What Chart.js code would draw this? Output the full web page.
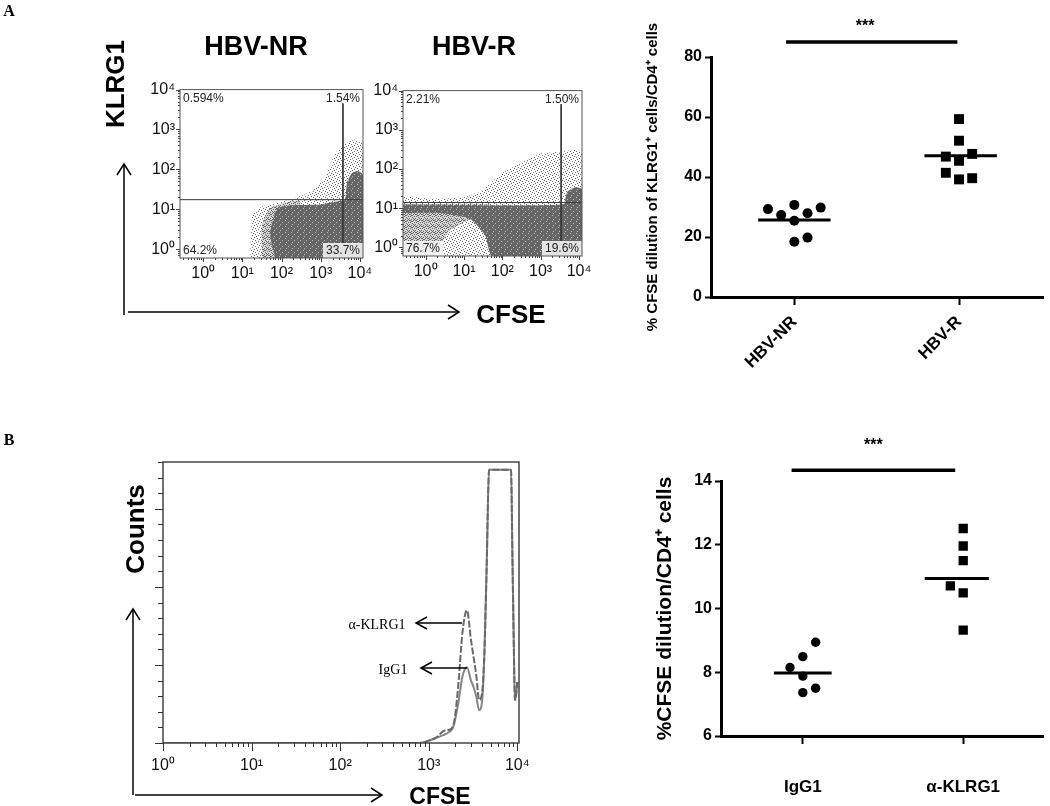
<!DOCTYPE html>
<html>
<head>
<meta charset="utf-8">
<script src="https://cdn.jsdelivr.net/npm/chart.js@4.4.0/dist/chart.umd.min.js"></script>
<style>
  body { margin: 0; background: #fff; }
  #fig { position: relative; width: 1050px; height: 806px; overflow: hidden; font-family: Arial, "Liberation Sans", sans-serif; color: #000; }
  canvas { position: absolute; }
  svg { position: absolute; left: 0; top: 0; }
  .t { position: absolute; transform: translate(-50%, -50%); white-space: nowrap; line-height: 1; }
  .b { font-weight: bold; }
  .v { transform: translate(-50%, -50%) rotate(-90deg); }
  .serif { font-family: "Liberation Serif", "Times New Roman", serif; }
</style>
</head>
<body>
<div id="fig">
  <canvas id="flowNR" width="239" height="213" style="left:140px;top:75px"></canvas>
  <canvas id="flowR" width="233" height="210" style="left:365px;top:76px"></canvas>
  <canvas id="dotA" width="420" height="362" style="left:630px;top:10px"></canvas>
  <canvas id="hist" width="405" height="323" style="left:138px;top:455px"></canvas>
  <canvas id="dotB" width="400" height="376" style="left:650px;top:430px"></canvas>

  <svg width="1050" height="806" fill="none" stroke="#000" stroke-width="1.5">
    <line x1="124" y1="315" x2="124" y2="164"/><polyline points="117,175 124,164 131,175"/>
    <line x1="128" y1="312" x2="459" y2="312"/><polyline points="448,305 459,312 448,319"/>
    <line x1="133" y1="795" x2="133" y2="609"/><polyline points="126,620 133,609 140,620"/>
    <line x1="135" y1="795" x2="382" y2="795"/><polyline points="371,788 382,795 371,802"/>
    <line x1="462" y1="623" x2="416" y2="623"/><polyline points="427,617 416,623 427,629"/>
    <line x1="467" y1="668" x2="421" y2="668"/><polyline points="432,662 421,668 432,674"/>
  </svg>

  <div class="t b serif" style="left:9px;top:11px;font-size:16px">A</div>
  <div class="t b serif" style="left:9px;top:440px;font-size:16px">B</div>
  <div class="t b v" style="left:115px;top:84px;font-size:26px">KLRG1</div>
  <div class="t b" style="left:256px;top:46px;font-size:27px">HBV-NR</div>
  <div class="t b" style="left:474px;top:46px;font-size:27px">HBV-R</div>
  <div class="t b" style="left:511px;top:314px;font-size:26px">CFSE</div>
  <div class="t b v" style="left:135px;top:529px;font-size:26px">Counts</div>
  <div class="t b" style="left:440px;top:796px;font-size:23px">CFSE</div>
  <div class="t serif" style="left:377px;top:625px;font-size:14px">α-KLRG1</div>
  <div class="t serif" style="left:393px;top:670px;font-size:14px">IgG1</div>
</div>

<script>
Chart.defaults.font.family = 'Arial, "Liberation Sans", sans-serif';
Chart.defaults.animation = false;

const SUP = ['⁰', '¹', '²', '³', '⁴'];
const DECADES = [1, 10, 100, 1000, 10000];

// ---- Panel A flow plots (KLRG1 vs CFSE): outlines of the dense, medium and sparse parts of each dot cloud
const nrDenseX = [68, 51, 77, 165, 956, 2300, 4140, 4700, 6300, 8900, 12000, 12000];
const nrDenseY = [0.6, 2.5, 10.6, 12.5, 13.2, 15.5, 17.4, 47, 81, 91, 73, 0.6];
const nrMidX = [31.8, 31.8, 51, 123, 296, 296];
const nrMidY = [0.6, 3.9, 10.6, 14.7, 15.6, 0.6];
const nrSparseX = [16, 18, 32, 165, 535, 1290, 2300, 4140, 7440, 12000, 12000];
const nrSparseY = [0.6, 6.8, 11.8, 17.4, 27, 62, 245, 430, 560, 430, 0.6];
const nrGate = [3690, 17.4];
const nrQuad = ['0.594%', '1.54%', '64.2%', '33.7%'];

const rDenseX = [0.25, 3870, 4920, 7960, 12000, 12000, 54, 35.5, 14.4, 2.38, 0.25];
const rDenseY = [12.4, 12.4, 25.8, 34, 30.5, 0.6, 0.6, 2.06, 5.35, 7.5, 7.5];
const rMidX = [0.25, 47.6, 14.4, 4.3, 2.38, 1.76, 0.25];
const rMidY = [12.4, 12.4, 5.35, 2.72, 1.17, 0.6, 0.6];
const rSparseX = [0.25, 0.25, 1.3, 7.9, 26, 88, 292, 970, 3230, 7960, 12000, 12000];
const rSparseY = [0.6, 18.4, 17.4, 18.4, 25.8, 71, 139, 245, 274, 306, 245, 0.6];
const rGate = [3430, 13.9];
const rQuad = ['2.21%', '1.50%', '76.7%', '19.6%'];

// ---- Panel A dot plot: % CFSE dilution of KLRG1+ cells / CD4+ cells
const groupsA = ['HBV-NR', 'HBV-R'];
const nrVals = [29.3, 27.3, 30.7, 25.4, 27.9, 29.8, 18.4, 19.8];
const nrJit = [-0.16, -0.08, 0, 0, 0.08, 0.16, 0, 0.08];
const rVals = [59.3, 52.1, 46.8, 45.4, 47.7, 41.4, 39.2, 39.6];
const rJit = [0, 0, -0.08, 0, 0.08, -0.08, 0, 0.08];
const mediansA = [25.7, 47.1];
const ticksA = [0, 20, 40, 60, 80];
const sigA = 85;

// ---- Panel B histogram: counts vs CFSE
const histX = [1, 800, 1000, 1250, 1450, 1700, 1900, 2150, 2400, 2700, 3000, 3200, 3450, 3700, 4000, 4250, 4500, 4800, 8500, 8800, 9100, 9400, 9700, 10000];
const akCounts = [0, 0, 3, 8, 15, 17, 23, 72, 141, 170, 132, 111, 86, 55, 64, 115, 222, 350, 350, 243, 136, 55, 62, 78];
const igCounts = [0, 0, 3, 7, 10, 14, 21, 50, 85, 97, 80, 72, 59, 42, 53, 115, 222, 350, 350, 243, 136, 55, 62, 78];

// ---- Panel B dot plot: %CFSE dilution / CD4+ cells
const groupsB = ['IgG1', 'α-KLRG1'];
const igVals = [8.94, 8.49, 8.15, 7.88, 7.50, 7.36];
const igJit = [0.08, 0, -0.08, 0, 0.08, 0];
const akVals = [12.51, 11.96, 11.50, 10.71, 10.49, 9.32];
const akJit = [0, 0, 0, -0.08, 0, 0];
const mediansB = [7.98, 10.94];
const ticksB = [6, 8, 10, 12, 14];
const sigB = 14.34;

const pts = (xs, ys) => xs.map((x, i) => ({ x, y: ys[i] }));
const supLabel = v => '10' + SUP[Math.round(Math.log10(v))];

function logMarks(min, max, maj, mnr) {
  const out = [];
  for (let e = -1; e <= 4; e++) {
    for (let k = 1; k <= 9; k++) {
      const v = k * Math.pow(10, e);
      if (v >= min && v <= max) out.push([v, k === 1 ? maj : mnr]);
    }
  }
  return out;
}

function makePattern(bg, dot, cells) {
  const c = document.createElement('canvas');
  c.width = 6; c.height = 6;
  const g = c.getContext('2d');
  if (bg) { g.fillStyle = bg; g.fillRect(0, 0, 6, 6); }
  g.fillStyle = dot;
  cells.forEach(([x, y]) => g.fillRect(x, y, 1, 1));
  return g.createPattern(c, 'repeat');
}
const sparseFill = makePattern(null, 'rgb(105,105,105)', [[0, 0], [3, 1], [1, 3], [4, 4], [2, 5], [5, 2]]);
const midFill = makePattern('rgb(215,215,215)', 'rgb(100,100,100)',
  [[0, 0], [2, 0], [4, 1], [1, 2], [3, 2], [5, 3], [0, 4], [2, 4], [4, 5], [1, 5], [3, 0], [5, 1]]);
const denseFill = makePattern('rgb(102,102,102)', 'rgb(190,190,190)', [[1, 1], [4, 3], [2, 5]]);

// box around chart area
const framePlugin = {
  id: 'frame',
  afterDraw(chart, args, o) {
    if (!o.color) return;
    const { ctx, chartArea: a } = chart;
    ctx.save();
    ctx.strokeStyle = o.color;
    ctx.lineWidth = o.width || 1;
    ctx.strokeRect(a.left, a.top, a.right - a.left, a.bottom - a.top);
    ctx.restore();
  }
};

// outer tick marks (major + minor) placed through the scales
const marksPlugin = {
  id: 'marks',
  afterDraw(chart, args, o) {
    const { ctx, chartArea: a, scales } = chart;
    ctx.save();
    ctx.strokeStyle = o.color || '#333';
    ctx.lineWidth = 1;
    (o.x || []).forEach(([v, len]) => {
      const px = Math.round(scales.x.getPixelForValue(v)) + 0.5;
      if (px < a.left - 1 || px > a.right + 1) return;
      ctx.beginPath(); ctx.moveTo(px, a.bottom); ctx.lineTo(px, a.bottom + len); ctx.stroke();
    });
    (o.y || []).forEach(([v, len]) => {
      const py = Math.round(scales.y.getPixelForValue(v)) + 0.5;
      if (py < a.top - 1 || py > a.bottom + 1) return;
      ctx.beginPath(); ctx.moveTo(a.left, py); ctx.lineTo(a.left - len, py); ctx.stroke();
    });
    ctx.restore();
  }
};

// quadrant percentages of the flow plots
const quadPlugin = {
  id: 'quad',
  afterDatasetsDraw(chart, args, o) {
    if (!o.text) return;
    const { ctx, chartArea: a } = chart;
    ctx.save();
    ctx.font = '12px Arial, "Liberation Sans", sans-serif';
    ctx.textBaseline = 'middle';
    const put = (txt, x, y, align, bg) => {
      const w = ctx.measureText(txt).width;
      if (bg) {
        ctx.fillStyle = bg;
        const x0 = align === 'right' ? x - w - 3 : x - 3;
        ctx.fillRect(x0, y - 8, w + 6, a.bottom - (y - 8));
      }
      ctx.fillStyle = '#222';
      ctx.textAlign = align;
      ctx.fillText(txt, x, y);
    };
    put(o.text[0], a.left + 3, a.top + 9, 'left');
    put(o.text[1], a.right - 3, a.top + 9, 'right');
    put(o.text[2], a.left + 3, a.bottom - 7, 'left', o.bgBL);
    put(o.text[3], a.right - 3, a.bottom - 7, 'right', o.bgBR);
    ctx.restore();
  }
};

// significance stars
const starsPlugin = {
  id: 'stars',
  afterDraw(chart, args, o) {
    if (!o.text) return;
    const { ctx, scales } = chart;
    ctx.save();
    ctx.font = 'bold 16px Arial, "Liberation Sans", sans-serif';
    ctx.fillStyle = '#000';
    ctx.textAlign = 'center';
    ctx.textBaseline = 'middle';
    ctx.fillText(o.text, scales.x.getPixelForValue(o.x), scales.y.getPixelForValue(o.y));
    ctx.restore();
  }
};

function flowChart(id, cloud, gate, quad, yWidth, bgBL) {
  const xMin = 0.257, xMax = 12000, yMin = 0.631, yMax = 10000;
  const area = (xs, ys, fill, order) => ({ data: pts(xs, ys), fill: 'shape', backgroundColor: fill,
    borderWidth: 0, pointRadius: 0, tension: 0.15, order });
  return new Chart(document.getElementById(id), {
    type: 'line',
    data: {
      datasets: [
        { data: [{ x: xMin, y: gate[1] }, { x: xMax, y: gate[1] }], borderColor: '#3a3a3a', borderWidth: 1, pointRadius: 0, order: 0 },
        { data: [{ x: gate[0], y: 4500 }, { x: gate[0], y: yMin }], borderColor: '#3a3a3a', borderWidth: 1, pointRadius: 0, order: 0 },
        area(cloud.dX, cloud.dY, denseFill, 1),
        area(cloud.mX, cloud.mY, midFill, 2),
        area(cloud.sX, cloud.sY, sparseFill, 3)
      ]
    },
    options: {
      responsive: false,
      layout: { padding: { top: 8, right: 16, left: 0, bottom: 0 } },
      scales: {
        x: {
          type: 'logarithmic', min: xMin, max: xMax,
          afterBuildTicks: s => { s.ticks = DECADES.map(v => ({ value: v })); },
          afterFit: s => { s.height = 30; },
          grid: { display: false, drawTicks: false },
          border: { display: false },
          ticks: { callback: v => supLabel(v), autoSkip: false, maxRotation: 0, padding: 6, color: '#111', font: { size: 16 } }
        },
        y: {
          type: 'logarithmic', min: yMin, max: yMax,
          afterBuildTicks: s => { s.ticks = DECADES.map(v => ({ value: v })); },
          afterFit: s => { s.width = yWidth; },
          grid: { display: false, drawTicks: false },
          border: { display: false },
          ticks: { callback: v => supLabel(v), autoSkip: false, padding: 5, color: '#111', font: { size: 16 } }
        }
      },
      plugins: {
        legend: { display: false },
        tooltip: { enabled: false },
        frame: { color: '#555', width: 1 },
        marks: { color: '#444', x: logMarks(xMin, xMax, 4, 2), y: logMarks(yMin, yMax, 4, 2) },
        quad: { text: quad, bgBR: 'rgb(228,228,228)', bgBL: bgBL }
      }
    },
    plugins: [framePlugin, marksPlugin, quadPlugin]
  });
}

flowChart('flowNR', { dX: nrDenseX, dY: nrDenseY, mX: nrMidX, mY: nrMidY, sX: nrSparseX, sY: nrSparseY },
  nrGate, nrQuad, 40, null);
flowChart('flowR', { dX: rDenseX, dY: rDenseY, mX: rMidX, mY: rMidY, sX: rSparseX, sY: rSparseY },
  rGate, rQuad, 38, 'rgba(250,250,250,0.85)');

function dotChart(id, o) {
  const flat = (x0, x1, y) => [{ x: x0, y }, { x: x1, y }];
  return new Chart(document.getElementById(id), {
    type: 'line',
    data: {
      datasets: [
        { data: flat(o.medA[0], o.medA[1], o.med[0]), borderColor: '#000', borderWidth: 3, pointRadius: 0, order: 0 },
        { data: flat(1 + o.medB[0], 1 + o.medB[1], o.med[1]), borderColor: '#000', borderWidth: 3, pointRadius: 0, order: 0 },
        { data: flat(o.sigX[0], o.sigX[1], o.sig), borderColor: '#000', borderWidth: 3.5, pointRadius: 0, clip: false, order: 0 },
        { data: o.a.map((v, i) => ({ x: o.aj[i], y: v })), showLine: false, pointStyle: 'circle', pointRadius: o.cr,
          pointBackgroundColor: '#000', pointBorderWidth: 0, order: 1 },
        { data: o.b.map((v, i) => ({ x: 1 + o.bj[i], y: v })), showLine: false, pointStyle: 'rect', pointRadius: o.sr,
          pointBackgroundColor: '#000', pointBorderWidth: 0, order: 1 }
      ]
    },
    options: {
      responsive: false,
      layout: { padding: { top: o.padTop, right: o.padRight, left: 0, bottom: 0 } },
      scales: {
        x: {
          type: 'linear', min: o.xMin, max: o.xMax,
          afterBuildTicks: s => { s.ticks = [{ value: 0 }, { value: 1 }]; },
          afterFit: s => { s.height = o.xHeight; },
          grid: { display: true, drawOnChartArea: false, drawTicks: true, tickLength: 8, tickWidth: 2, tickColor: '#000' },
          border: { display: true, width: 3, color: '#000' },
          ticks: { callback: (v, i) => o.groups[i], autoSkip: false, minRotation: o.rot, maxRotation: o.rot,
                   padding: o.xPad, color: '#000', font: { size: o.xFont, weight: 'bold' } }
        },
        y: {
          min: o.ticks[0], max: o.ticks[o.ticks.length - 1],
          afterBuildTicks: s => { s.ticks = o.ticks.map(v => ({ value: v })); },
          afterFit: s => { s.width = o.yWidth; },
          grid: { display: true, drawOnChartArea: false, drawTicks: true, tickLength: 6, tickWidth: 2, tickColor: '#000' },
          border: { display: true, width: 3, color: '#000' },
          ticks: { padding: 3, color: '#000', font: { size: 16, weight: 'bold' } },
          title: { display: true, text: o.title, color: '#000', font: { size: o.titleFont, weight: 'bold' },
                   padding: { top: o.titlePad, bottom: 0 } }
        }
      },
      plugins: {
        legend: { display: false },
        tooltip: { enabled: false },
        stars: { text: '***', x: o.starX, y: o.starY }
      }
    },
    plugins: [starsPlugin]
  });
}

dotChart('dotA', {
  groups: groupsA, a: nrVals, aj: nrJit, b: rVals, bj: rJit, med: mediansA,
  medA: [-0.22, 0.22], medB: [-0.21, 0.23], sig: sigA, sigX: [-0.05, 0.99], starX: 0.43, starY: 90,
  ticks: ticksA, xMin: -0.506, xMax: 1.51, padTop: 47, padRight: 0, xHeight: 75, yWidth: 81,
  rot: 45, xPad: 7, xFont: 17, cr: 5, sr: 7,
  title: '% CFSE dilution of KLRG1⁺ cells/CD4⁺ cells', titleFont: 15, titlePad: 14
});

dotChart('dotB', {
  groups: groupsB, a: igVals, aj: igJit, b: akVals, bj: akJit, med: mediansB,
  medA: [-0.18, 0.18], medB: [-0.24, 0.16], sig: sigB, sigX: [-0.07, 0.95], starX: 0.44, starY: 15.12,
  ticks: ticksB, xMin: -0.51, xMax: 1.5, padTop: 51, padRight: 2, xHeight: 70, yWidth: 71,
  rot: 0, xPad: 33, xFont: 17, cr: 4.7, sr: 6.6,
  title: '%CFSE dilution/CD4⁺ cells', titleFont: 21, titlePad: 3
});

// histogram of CFSE
const yMarks = [];
for (let v = 0; v <= 360; v += 20) yMarks.push([v, v % 100 === 0 ? 8 : 5]);

new Chart(document.getElementById('hist'), {
  type: 'line',
  data: {
    datasets: [
      { label: 'α-KLRG1', data: pts(histX, akCounts), borderColor: 'rgb(105,105,105)', borderWidth: 2, borderDash: [7, 2],
        pointRadius: 0, cubicInterpolationMode: 'monotone' },
      { label: 'IgG1', data: pts(histX, igCounts), borderColor: 'rgb(135,135,135)', borderWidth: 2,
        pointRadius: 0, cubicInterpolationMode: 'monotone' }
    ]
  },
  options: {
    responsive: false,
    layout: { padding: { top: 7, right: 24, left: 12, bottom: 0 } },
    scales: {
      x: {
        type: 'logarithmic', min: 1, max: 10450,
        afterBuildTicks: s => { s.ticks = DECADES.map(v => ({ value: v })); },
        afterFit: s => { s.height = 35; },
        grid: { display: false, drawTicks: false },
        border: { display: false },
        ticks: { callback: v => supLabel(v), autoSkip: false, maxRotation: 0, padding: 13, color: '#111', font: { size: 16 } }
      },
      y: {
        min: 0, max: 360,
        afterFit: s => { s.width = 13; },
        grid: { display: false, drawTicks: false },
        border: { display: false },
        ticks: { display: false }
      }
    },
    plugins: {
      legend: { display: false },
      tooltip: { enabled: false },
      frame: { color: '#444', width: 1.5 },
      marks: { color: '#333', x: logMarks(1, 10450, 8, 4), y: yMarks }
    }
  },
  plugins: [framePlugin, marksPlugin]
});
</script>
</body>
</html>
